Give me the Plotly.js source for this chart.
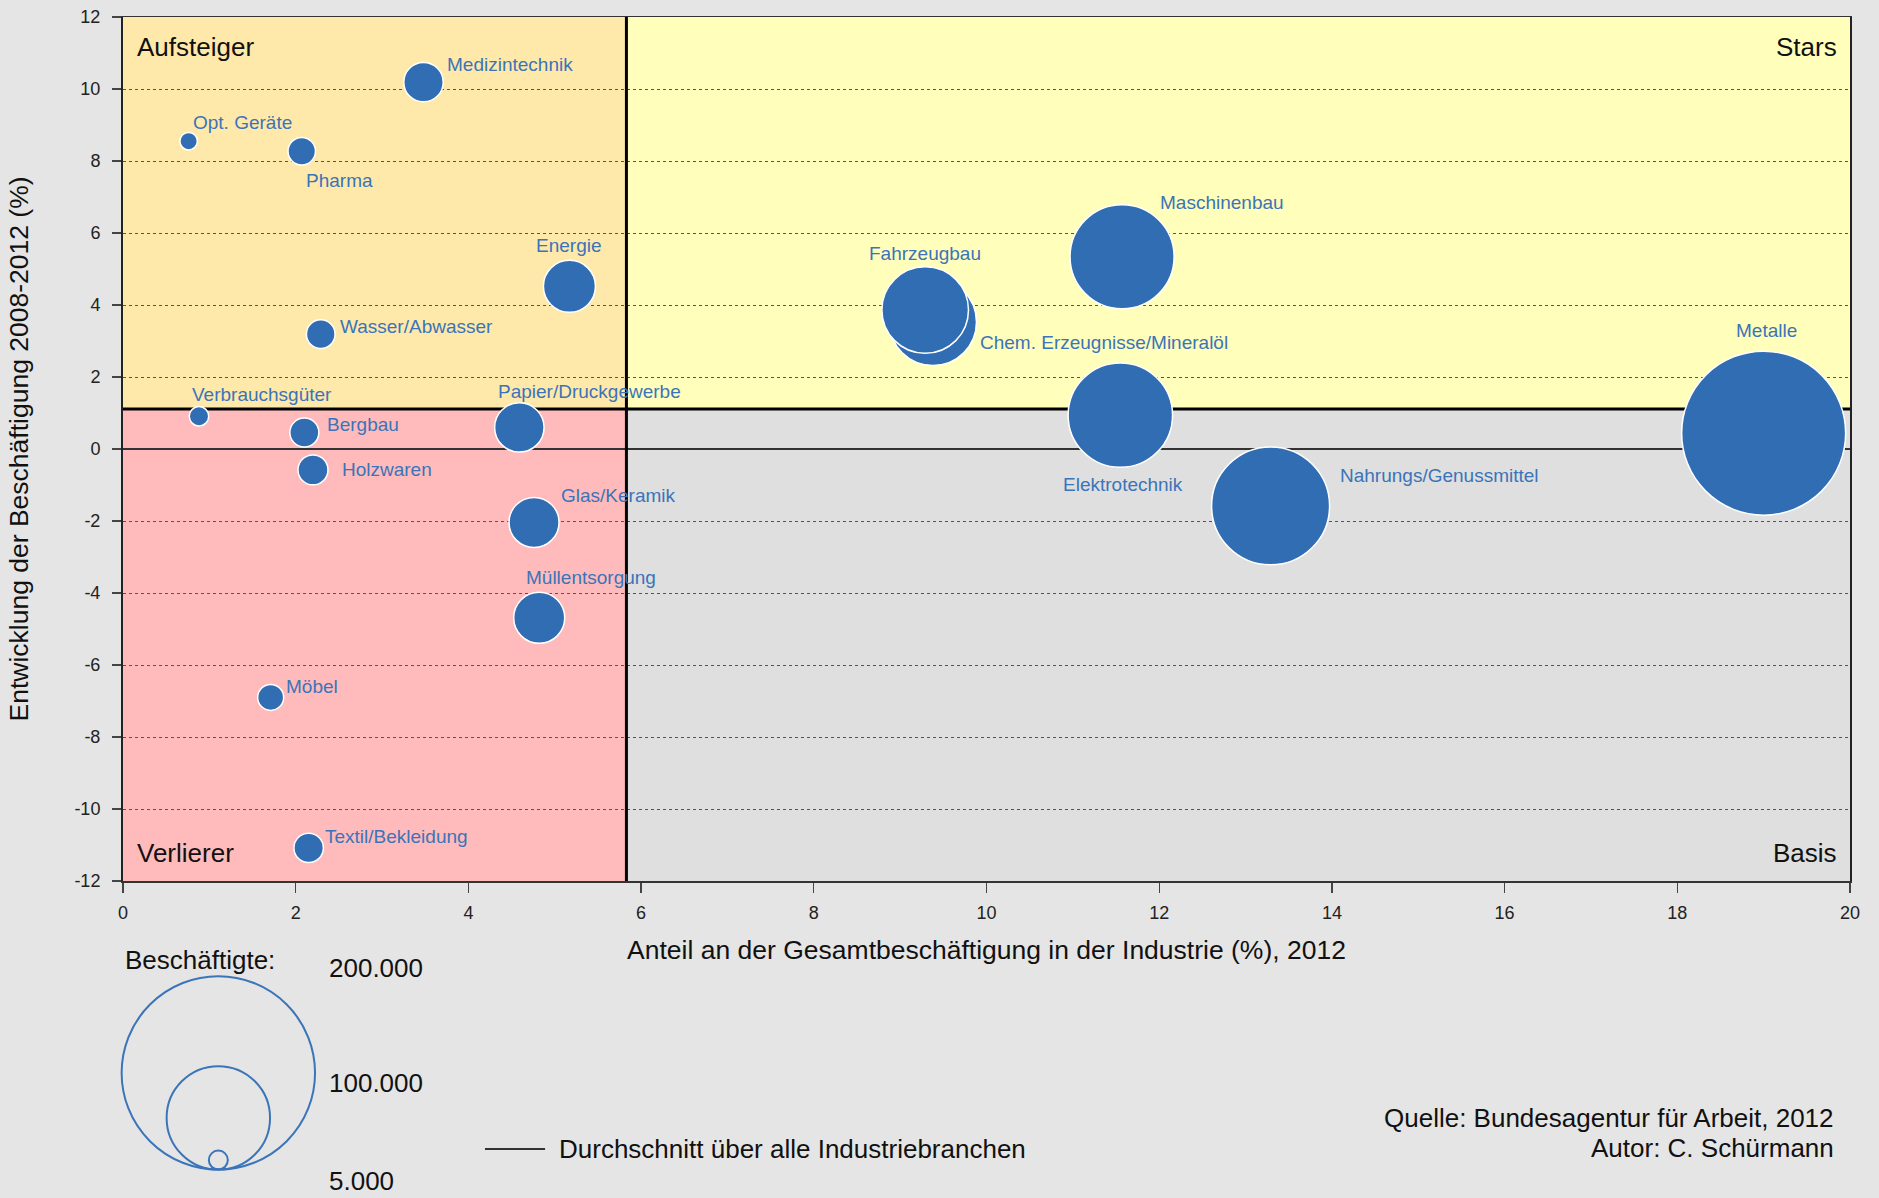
<!DOCTYPE html>
<html>
<head>
<meta charset="utf-8">
<script src="https://cdn.plot.ly/plotly-3.0.1.min.js"></script>
<style>
  html, body { margin: 0; padding: 0; background: #e5e5e5; }
  #chart { width: 1879px; height: 1198px; }
</style>
</head>
<body>
<div id="chart"></div>
<script>
// ---------------- data ----------------
const industries = [
  "Opt. Geräte", "Verbrauchsgüter", "Medizintechnik", "Pharma", "Energie",
  "Wasser/Abwasser", "Bergbau", "Papier/Druckgewerbe", "Holzwaren", "Glas/Keramik",
  "Müllentsorgung", "Möbel", "Textil/Bekleidung", "Chem. Erzeugnisse/Mineralöl",
  "Fahrzeugbau", "Maschinenbau", "Elektrotechnik", "Nahrungs/Genussmittel", "Metalle"
];
// Anteil an der Gesamtbeschäftigung in der Industrie (%), 2012
const shareOfEmployment = [
  0.76, 0.88, 3.48, 2.07, 5.17,
  2.29, 2.10, 4.59, 2.20, 4.76,
  4.82, 1.71, 2.15, 9.38,
  9.29, 11.57, 11.55, 13.29, 19.00
];
// Entwicklung der Beschäftigung 2008-2012 (%)
const employmentChange = [
  8.55, 0.91, 10.19, 8.27, 4.52,
  3.19, 0.46, 0.60, -0.58, -2.04,
  -4.69, -6.90, -11.08, 3.53,
  3.86, 5.34, 0.94, -1.58, 0.44
];
// Beschäftigte
const employees = [
  4500, 6700, 28900, 15600, 42900,
  16900, 17300, 40000, 18400, 40700,
  41800, 14000, 17800, 81800,
  81300, 100700, 101100, 116200, 167300
];
// Durchschnitt über alle Industriebranchen
const avgShare = 5.83;
const avgChange = 1.11;

const legendValues = [200000, 100000, 5000];
const legendLabels = ["200.000", "100.000", "5.000"];

const xTickVals = [0, 2, 4, 6, 8, 10, 12, 14, 16, 18, 20];
const xTickText = ["0", "2", "4", "6", "8", "10", "12", "14", "16", "18", "20"];
const yTickVals = [12, 10, 8, 6, 4, 2, 0, -2, -4, -6, -8, -10, -12];
const yTickText = ["12", "10", "8", "6", "4", "2", "0", "-2", "-4", "-6", "-8", "-10", "-12"];

// ---------------- styles ----------------
const FONT = "Liberation Sans, Arial, Helvetica, sans-serif";
const bubbleColor = "#306db3";
const labelColor = "#3b74b9";
const xRange = [0, 20];
const yRange = [-12, 12];
// bubble radius scale (px): r = R0 + K * employees
const R0 = 6.7, K = 0.00045;
const radius = v => R0 + K * v;

// label placement per industry: [xanchor, xshift px, yshift px]
const labelPos = [
  ["left", 2, 19], ["left", -9, 22], ["left", 21, 18], ["left", 2, -29], ["center", 0, 41],
  ["left", 17, 8], ["left", 21, 8], ["left", -23, 36], ["left", 27, 0], ["left", 25, 27],
  ["left", -15, 40], ["left", 13, 11], ["left", 14, 11], ["left", 45, -21],
  ["center", 0, 57], ["left", 36, 54], ["center", 3, -69], ["left", 67, 30], ["center", 3, 103]
];

const trace = {
  type: "scatter",
  mode: "markers",
  x: shareOfEmployment,
  y: employmentChange,
  text: industries,
  hoverinfo: "text",
  marker: {
    size: employees.map(v => 2 * radius(v)),
    sizemode: "diameter",
    color: bubbleColor,
    opacity: 1,
    line: { color: "#ffffff", width: 1.5 }
  },
  showlegend: false
};

// quadrant backgrounds
const shapes = [
  { type: "rect", layer: "below", xref: "x", yref: "y", x0: xRange[0], x1: avgShare, y0: avgChange, y1: yRange[1],
    fillcolor: "#ffe9aa", line: { width: 0 } },
  { type: "rect", layer: "below", xref: "x", yref: "y", x0: avgShare, x1: xRange[1], y0: avgChange, y1: yRange[1],
    fillcolor: "#ffffbb", line: { width: 0 } },
  { type: "rect", layer: "below", xref: "x", yref: "y", x0: xRange[0], x1: avgShare, y0: yRange[0], y1: avgChange,
    fillcolor: "#ffbbbb", line: { width: 0 } },
  { type: "rect", layer: "below", xref: "x", yref: "y", x0: avgShare, x1: xRange[1], y0: yRange[0], y1: avgChange,
    fillcolor: "#dfdfdf", line: { width: 0 } },
  // average lines
  { type: "line", layer: "between", xref: "x", yref: "y", x0: avgShare, x1: avgShare, y0: yRange[0], y1: yRange[1],
    line: { color: "#000000", width: 3 } },
  { type: "line", layer: "between", xref: "x", yref: "y", x0: xRange[0], x1: xRange[1], y0: avgChange, y1: avgChange,
    line: { color: "#000000", width: 3 } },
  // legend line for average
  { type: "line", xref: "paper", yref: "paper", x0: 0.2096, x1: 0.2444, y0: -0.3102, y1: -0.3102,
    line: { color: "#333333", width: 2 } }
];

// size legend circles (bottom-aligned, pixel sized)
legendValues.forEach(v => {
  const r = Math.max(radius(v), 9.5);
  shapes.push({
    type: "circle", xref: "paper", yref: "paper",
    xsizemode: "pixel", ysizemode: "pixel",
    xanchor: 0.0552, yanchor: -0.334,
    x0: -r, x1: r, y0: 0, y1: 2 * r,
    line: { color: "#3b74b9", width: 2 }, fillcolor: "rgba(0,0,0,0)"
  });
});

const annotations = [];
industries.forEach((name, i) => {
  const p = labelPos[i];
  annotations.push({
    x: shareOfEmployment[i], y: employmentChange[i], xref: "x", yref: "y",
    text: name, showarrow: false,
    xanchor: p[0], yanchor: "middle", xshift: p[1], yshift: p[2],
    font: { family: FONT, size: 19, color: labelColor }
  });
});

const bigFont = { family: FONT, size: 26, color: "#111111" };
// quadrant names
annotations.push(
  { xref: "paper", yref: "paper", x: 0.0068, y: 0.965, text: "Aufsteiger", showarrow: false, xanchor: "left", yanchor: "middle", font: bigFont },
  { xref: "paper", yref: "paper", x: 0.9939, y: 0.965, text: "Stars", showarrow: false, xanchor: "right", yanchor: "middle", font: bigFont },
  { xref: "paper", yref: "paper", x: 0.0068, y: 0.032, text: "Verlierer", showarrow: false, xanchor: "left", yanchor: "middle", font: bigFont },
  { xref: "paper", yref: "paper", x: 0.9939, y: 0.032, text: "Basis", showarrow: false, xanchor: "right", yanchor: "middle", font: bigFont }
);
// size legend texts
annotations.push(
  { xref: "paper", yref: "paper", x: 0.0, y: -0.0914, text: "Beschäftigte:", showarrow: false, xanchor: "left", yanchor: "middle", font: bigFont },
  { xref: "paper", yref: "paper", x: 0.1181, y: -0.101, text: legendLabels[0], showarrow: false, xanchor: "left", yanchor: "middle", font: bigFont },
  { xref: "paper", yref: "paper", x: 0.1181, y: -0.2338, text: legendLabels[1], showarrow: false, xanchor: "left", yanchor: "middle", font: bigFont },
  { xref: "paper", yref: "paper", x: 0.1181, y: -0.3475, text: legendLabels[2], showarrow: false, xanchor: "left", yanchor: "middle", font: bigFont },
  { xref: "paper", yref: "paper", x: 0.2513, y: -0.3102, text: "Durchschnitt über alle Industriebranchen", showarrow: false, xanchor: "left", yanchor: "middle", font: bigFont },
  { xref: "paper", yref: "paper", x: 0.992, y: -0.2743, text: "Quelle: Bundesagentur für Arbeit, 2012", showarrow: false, xanchor: "right", yanchor: "middle", font: bigFont },
  { xref: "paper", yref: "paper", x: 0.992, y: -0.309, text: "Autor: C. Schürmann", showarrow: false, xanchor: "right", yanchor: "middle", font: bigFont }
);

const layout = {
  width: 1879, height: 1198,
  margin: { l: 123, r: 29, t: 17, b: 317, pad: 0 },
  paper_bgcolor: "#e5e5e5",
  plot_bgcolor: "#dfdfdf",
  font: { family: FONT, color: "#222222" },
  xaxis: {
    range: xRange, tickvals: xTickVals, ticktext: xTickText,
    showgrid: false, zeroline: false,
    showline: true, linecolor: "#333333", linewidth: 1.5, mirror: true,
    ticks: "outside", ticklen: 10, tickcolor: "#444444", tickwidth: 1.2,
    ticklabelstandoff: 5,
    tickfont: { family: FONT, size: 18, color: "#222222" },
    title: { text: "Anteil an der Gesamtbeschäftigung in der Industrie (%), 2012",
             font: { family: FONT, size: 26.5, color: "#111111" }, standoff: 18 },
    fixedrange: true
  },
  yaxis: {
    range: yRange, tickvals: yTickVals, ticktext: yTickText,
    showgrid: true, gridcolor: "#555555", gridwidth: 1, griddash: "dot",
    zeroline: true, zerolinecolor: "#333333", zerolinewidth: 1.5,
    showline: true, linecolor: "#222222", linewidth: 2, mirror: true,
    ticks: "outside", ticklen: 9, tickcolor: "#444444", tickwidth: 1.2,
    ticklabelstandoff: 8,
    tickfont: { family: FONT, size: 18, color: "#222222" },
    title: { text: "Entwicklung der Beschäftigung 2008-2012 (%)",
             font: { family: FONT, size: 26.5, color: "#111111" }, standoff: 38 },
    fixedrange: true
  },
  shapes: shapes,
  annotations: annotations,
  showlegend: false
};

Plotly.newPlot("chart", [trace], layout, { displayModeBar: false, staticPlot: true });
</script>
</body>
</html>
